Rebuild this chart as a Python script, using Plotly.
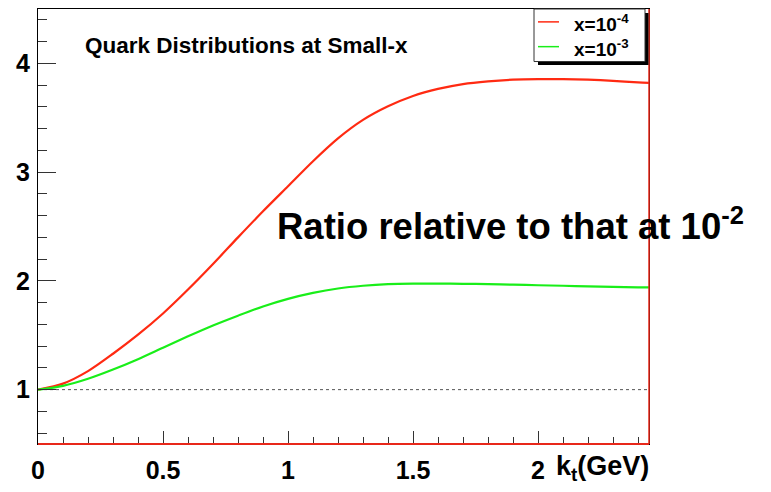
import plotly.graph_objects as go

# ---- data ----
kt = [0.0, 0.1, 0.2, 0.3, 0.4, 0.5, 0.6, 0.7, 0.8, 0.9, 1.0, 1.1, 1.2, 1.3,
      1.4, 1.5, 1.6, 1.7, 1.8, 1.9, 2.0, 2.1, 2.2, 2.3, 2.4, 2.45]
ratio_1e4 = [1.00, 1.055, 1.17, 1.33, 1.505, 1.70, 1.92, 2.155, 2.40, 2.64, 2.87,
             3.10, 3.31, 3.48, 3.605, 3.70, 3.765, 3.81, 3.835, 3.85, 3.855,
             3.855, 3.85, 3.84, 3.825, 3.82]
ratio_1e3 = [1.00, 1.035, 1.10, 1.185, 1.28, 1.385, 1.49, 1.59, 1.68, 1.765, 1.835,
             1.89, 1.93, 1.955, 1.97, 1.975, 1.975, 1.973, 1.97, 1.965, 1.96,
             1.955, 1.95, 1.945, 1.94, 1.94]
series_names = ["x=10<sup>-4</sup>", "x=10<sup>-3</sup>"]
series_colors = ["#ff2a12", "#19ee19"]
x_ticks = [0, 0.5, 1, 1.5, 2]
y_ticks = [1, 2, 3, 4]
reference_level = 1

W, H = 771, 492
L, R, T, B = 38, 649, 8, 447
FONT = "Liberation Sans, Arial, Helvetica, sans-serif"

fig = go.Figure()
for yv, name, col in zip([ratio_1e4, ratio_1e3], series_names, series_colors):
    fig.add_trace(go.Scatter(x=kt, y=yv, mode="lines", name=name, showlegend=False,
                             line=dict(color=col, width=2.2, shape="spline", smoothing=0.8)))

def px_x(p):
    return (p - L) / (R - L)

def px_y(p):
    return 1 - (p - T) / (B - T)

shapes = [
    dict(type="line", xref="paper", yref="y", x0=0, x1=1, y0=reference_level,
         y1=reference_level, line=dict(color="#555555", width=1, dash="3px,3px"),
         layer="below"),
    dict(type="line", xref="paper", yref="paper", x0=0, x1=1, y0=0, y1=0,
         line=dict(color="#e8281a", width=2), layer="above"),
    dict(type="line", xref="paper", yref="paper", x0=1, x1=1, y0=0, y1=1,
         line=dict(color="#e8281a", width=1.5), layer="above"),
    # legend shadow + box
    dict(type="rect", xref="paper", yref="paper", x0=px_x(538), x1=px_x(648.5),
         y0=px_y(64.5), y1=px_y(12), fillcolor="black", line=dict(width=0),
         layer="above"),
    dict(type="rect", xref="paper", yref="paper", x0=px_x(534), x1=px_x(645),
         y0=px_y(61), y1=px_y(8), fillcolor="white",
         line=dict(color="#333333", width=1), layer="above"),
]

annotations = [
    dict(text="<b>Quark Distributions at Small-x</b>", xref="paper", yref="paper",
         x=px_x(83), y=px_y(45), xanchor="left", yanchor="middle", showarrow=False,
         font=dict(family=FONT, size=22.5, color="black")),
    dict(text="<b>Ratio relative to that at 10<sup>-2</sup></b>", xref="paper",
         yref="paper", x=px_x(275), y=px_y(225), xanchor="left", yanchor="middle",
         showarrow=False, font=dict(family=FONT, size=36.5, color="black")),
    dict(text="<b>k<sub>t</sub>(GeV)</b>", xref="paper", yref="paper",
         x=px_x(554), y=px_y(471), xanchor="left", yanchor="middle",
         showarrow=False, font=dict(family=FONT, size=27, color="black")),
]

legend_rows = [21, 46]
for name, col, ry in zip(series_names, series_colors, legend_rows):
    shapes.append(dict(type="line", xref="paper", yref="paper",
                       x0=px_x(538), x1=px_x(559), y0=px_y(ry), y1=px_y(ry),
                       line=dict(color=col, width=1.5), layer="above"))
    annotations.append(dict(text="<b>" + name + "</b>", xref="paper", yref="paper",
                            x=px_x(572), y=px_y(ry + 1), xanchor="left", yanchor="middle",
                            showarrow=False,
                            font=dict(family=FONT, size=19, color="black")))

fig.update_layout(
    width=W, height=H,
    margin=dict(l=L, r=W - R, t=T, b=H - B),
    paper_bgcolor="white", plot_bgcolor="white",
    showlegend=False,
    shapes=shapes, annotations=annotations,
    xaxis=dict(range=[0, 2.444], tickvals=x_ticks, ticktext=[str(v) for v in x_ticks],
               ticks="inside", ticklen=13, tickwidth=1, tickcolor="#333333",
               minor=dict(dtick=0.1, tick0=0, ticks="inside", ticklen=7,
                          tickcolor="#333333", showgrid=False),
               showgrid=False, zeroline=False, showline=True, linecolor="black",
               linewidth=1, mirror=True,
               tickfont=dict(family=FONT, size=25, color="black", weight="bold"),
               ticklabelstandoff=4),
    yaxis=dict(range=[0.5, 4.5], tickvals=y_ticks, ticktext=[str(v) for v in y_ticks],
               ticks="inside", ticklen=18, tickwidth=1, tickcolor="#333333",
               minor=dict(dtick=0.2, tick0=0, ticks="inside", ticklen=9,
                          tickcolor="#333333", showgrid=False),
               showgrid=False, zeroline=False, showline=True, linecolor="black",
               linewidth=1, mirror=True,
               tickfont=dict(family=FONT, size=25, color="black", weight="bold"),
               ticklabelstandoff=2),
)

fig.write_html("out.html")
